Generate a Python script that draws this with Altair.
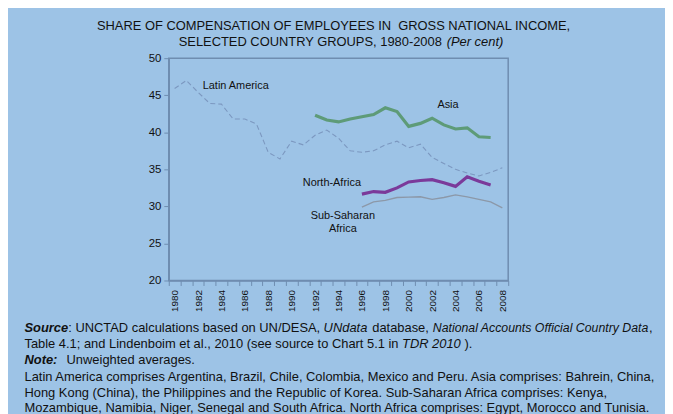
import altair as alt
import pandas as pd

FONT = "Liberation Sans"
AXIS_COLOR = "#6F8DB0"
INK = "#111111"

years = list(range(1980, 2009))
latin_america = [45.9, 47.0, 45.4, 43.9, 43.8, 41.8, 41.8, 41.1, 37.3, 36.4,
                 38.8, 38.3, 39.6, 40.3, 39.2, 37.5, 37.3, 37.5, 38.3, 38.8,
                 37.9, 38.4, 36.6, 35.8, 35.0, 34.5, 34.1, 34.6, 35.2]
asia_years = list(range(1992, 2008))
asia = [42.3, 41.65, 41.4, 41.8, 42.1, 42.4, 43.3, 42.8, 40.8, 41.2,
        41.9, 41.0, 40.45, 40.6, 39.4, 39.3]
north_africa_years = list(range(1996, 2008))
north_africa = [31.65, 32.0, 31.9, 32.5, 33.3, 33.5, 33.6, 33.2, 32.7, 34.0, 33.4, 32.9]
ssa_years = list(range(1996, 2009))
sub_saharan = [29.9, 30.6, 30.8, 31.2, 31.25, 31.3, 30.95, 31.2, 31.55, 31.3, 30.95, 30.6, 29.8]

series = [
    ("Latin America", years, latin_america, "#7C98C0", 1.1, [5, 3]),
    ("Sub-Saharan Africa", ssa_years, sub_saharan, "#8C98A8", 1.3, None),
    ("Asia", asia_years, asia, "#5E9B78", 3.2, None),
    ("North-Africa", north_africa_years, north_africa, "#7B3A9A", 3.2, None),
]

rows = []
for name, xs, vs, *_ in series:
    for x, v in zip(xs, vs):
        rows.append({"year": x, "value": v, "series": name})
df = pd.DataFrame(rows)

y_ticks = [20, 25, 30, 35, 40, 45, 50]
x_values = sorted([y - 0.5 for y in range(1980, 2010)] + years)

x_axis = alt.Axis(
    values=x_values,
    labelExpr="datum.value % 2 == 0 ? toString(datum.value) : ''",
    tickOpacity={"condition": {"test": "datum.value % 1 == 0", "value": 0}, "value": 1},
    labelAngle=-90, labelFontSize=10, labelFont=FONT, labelColor=INK,
    labelPadding=4, labelOverlap=False, labelFlush=False, labelBound=False,
    tickSize=5, tickColor=AXIS_COLOR, tickWidth=1,
    domainColor=AXIS_COLOR, domainWidth=1.5, grid=False, title=None,
)
y_axis = alt.Axis(
    values=y_ticks, format="d", labelFontSize=11.5, labelFont=FONT, labelColor=INK,
    labelPadding=3, labelOverlap=False, tickSize=5, tickColor=AXIS_COLOR, tickWidth=1,
    domainColor=AXIS_COLOR, domainWidth=1.5, grid=False, title=None,
)
x_scale = alt.Scale(domain=[1979.5, 2008.5], nice=False, zero=False)
y_scale = alt.Scale(domain=[20, 50], nice=False, zero=False)

line_layers = []
for name, xs, vs, color, width, dash in series:
    mark_kw = dict(color=color, strokeWidth=width, interpolate="linear")
    if dash:
        mark_kw["strokeDash"] = dash
    line_layers.append(
        alt.Chart(df).transform_filter(alt.datum.series == name).mark_line(**mark_kw).encode(
            x=alt.X("year:Q", scale=x_scale, axis=x_axis),
            y=alt.Y("value:Q", scale=y_scale, axis=y_axis),
        )
    )

one = alt.Data(values=[{}])


def label(text, x, y, align="left"):
    return alt.Chart(one).mark_text(
        text=text, align=align, baseline="middle", fontSize=11, font=FONT, color=INK
    ).encode(
        x=alt.XDatum(x, type="quantitative", scale=x_scale, axis=x_axis),
        y=alt.YDatum(y, type="quantitative", scale=y_scale, axis=y_axis),
    )


def txt(text, x, y, size=13, style="normal", weight="normal", align="left", baseline="middle"):
    return alt.Chart(one).mark_text(
        text=text, align=align, baseline=baseline, fontSize=size, fontStyle=style,
        fontWeight=weight, font=FONT, color=INK
    ).encode(x=alt.value(x), y=alt.value(y))


labels = [
    label("Latin America", 1982.4, 46.3),
    label("Asia", 2002.45, 43.7),
    label("North-Africa", 1990.95, 33.1),
    label("Sub-Saharan", 1994.37, 28.7, align="center"),
    label("Africa", 1994.37, 26.95, align="center"),
]

title = [
    txt("SHARE OF COMPENSATION OF EMPLOYEES IN\u00a0 GROSS NATIONAL INCOME,", 166, -28, baseline="alphabetic", align="center"),
    txt("SELECTED COUNTRY GROUPS, 1980-2008", 10, -12, baseline="alphabetic"),
    txt("(Per cent)", 280, -12, style="italic", baseline="alphabetic"),
]

L = -145.4
r1, r2, r3, r4, r5, r6 = 271.5, 288, 304.5, 321, 337.5, 353
notes = [
    txt("Source", L, r1, style="italic", weight="bold"),
    txt(": UNCTAD calculations based on UN/DESA,", -101.3, r1),
    txt("UNdata", 156, r1, style="italic"),
    txt("database,", 205, r1),
    txt("National Accounts Official Country Data", 266, r1, size=12.4, style="italic"),
    txt(",", 484, r1),
    txt("Table 4.1; and Lindenboim et al., 2010 (see source to Chart 5.1 in", L, r2),
    txt("TDR 2010", 235, r2, style="italic"),
    txt(").", 298, r2),
    txt("Note:", L, r3, style="italic", weight="bold"),
    txt("Unweighted averages.", -103, r3),
    txt("Latin America comprises Argentina, Brazil, Chile, Colombia, Mexico and Peru. Asia comprises: Bahrein, China,", L, r4),
    txt("Hong Kong (China), the Philippines and the Republic of Korea. Sub-Saharan Africa comprises: Kenya,", L, r5),
    txt("Mozambique, Namibia, Niger, Senegal and South Africa. North Africa comprises: Egypt, Morocco and Tunisia.", L, r6),
]

chart = alt.layer(*line_layers, *labels, *title, *notes).properties(
    width=342, height=224,
    autosize=alt.AutoSizeParams(type="none"),
    padding={"left": 162, "top": 49, "right": 158, "bottom": 140},
).configure(
    background="#9DC3E6",
).configure_view(
    stroke=AXIS_COLOR, strokeWidth=1.5, fill=None,
)

chart.save("out.html", embed_options={"renderer": "svg", "actions": False})
